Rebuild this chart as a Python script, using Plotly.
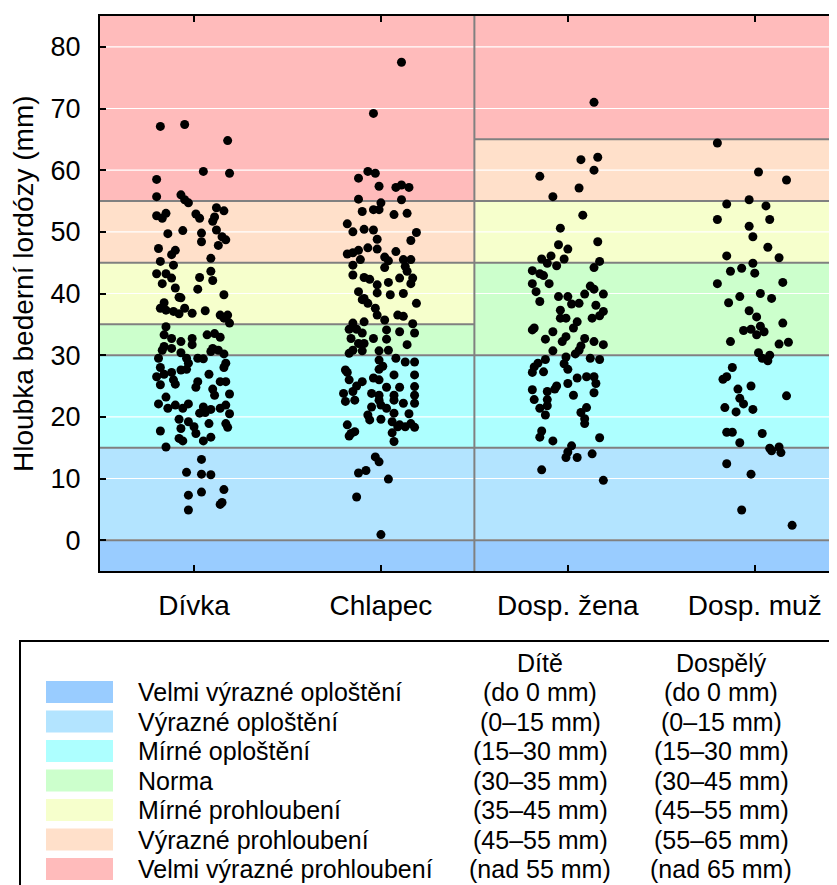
import plotly.graph_objects as go

# ---------------- data ----------------
categories = ["Dívka", "Chlapec", "Dosp. žena", "Dosp. muž"]

divka_y = [67.1, 67.4, 64.8, 59.8, 59.5, 58.5, 55.7, 56.0, 55.2, 54.7, 52.6, 52.2, 53.0, 49.7, 50.2,
           52.9, 52.2, 49.8, 48.4, 53.9, 53.4, 52.4, 51.7, 50.3, 49.2, 48.7, 47.8, 47.3, 47.0, 46.3,
           44.6, 45.2, 45.7, 43.2, 43.2, 42.5, 41.6, 40.9, 42.6, 42.1, 43.6, 39.4, 39.3, 40.7, 39.8,
           38.5, 37.6, 37.3, 37.1, 36.7, 37.6, 36.8, 37.2, 36.5, 36.5, 35.2, 36.0, 34.6, 33.3, 32.7,
           32.2, 32.7, 31.7, 33.3, 33.5, 32.9, 31.4, 31.1, 30.8, 30.4, 31.1, 30.8, 30.6, 30.2, 29.5,
           29.4, 29.5, 29.5, 28.0, 26.5, 26.9, 27.2, 26.0, 25.3, 27.6, 27.7, 28.7, 26.9, 28.0, 28.7,
           25.2, 25.7, 24.8, 24.5, 25.7, 25.7, 23.5, 23.7, 23.2, 22.1, 21.4, 21.9, 21.4, 22.1, 21.6,
           20.6, 20.7, 21.2, 21.4, 21.9, 20.5, 19.6, 19.2, 18.1, 18.4, 18.9, 18.9, 18.3, 17.7, 17.3,
           16.5, 16.1, 16.1, 16.7, 15.1, 13.1, 11.0, 10.7, 10.6, 7.3, 7.8, 8.2, 6.1, 5.8, 4.9]
divka_dx = [-0.18, -0.05, 0.18, 0.05, 0.19, -0.20, -0.20, -0.07, -0.05, -0.03, -0.20, -0.17, -0.15, -0.14, -0.06,
            0.01, 0.03, 0.04, 0.04, 0.12, 0.16, 0.11, 0.10, 0.12, 0.15, 0.17, 0.13, -0.19, -0.10, -0.12,
            -0.11, -0.18, 0.09, -0.20, -0.15, -0.12, -0.17, -0.10, 0.03, 0.10, 0.09, -0.08, -0.07, 0.02, 0.16,
            -0.16, -0.18, -0.15, -0.11, -0.08, -0.05, -0.01, 0.06, 0.14, 0.18, 0.19, 0.16, -0.15, -0.16, -0.12,
            -0.07, -0.01, -0.01, 0.07, 0.11, 0.14, -0.16, -0.12, -0.17, -0.07, 0.10, 0.13, 0.09, 0.16, 0.02,
            0.05, -0.04, -0.19, -0.18, -0.20, -0.16, -0.12, -0.11, -0.10, -0.07, -0.04, -0.03, 0.08, 0.16, 0.17,
            -0.18, 0.02, 0.01, 0.10, 0.14, 0.17, 0.11, 0.19, -0.15, -0.19, -0.14, -0.10, -0.06, -0.03, 0.05,
            0.03, 0.06, 0.09, 0.14, 0.17, 0.19, -0.08, -0.03, -0.07, 0.00, 0.08, 0.17, 0.18, -0.18, 0.01,
            -0.08, -0.06, 0.05, 0.09, -0.15, 0.04, -0.04, 0.04, 0.09, -0.03, 0.04, 0.16, 0.15, 0.14, -0.03]

chlapec_y = [77.5, 69.2, 58.7, 59.8, 59.5, 57.4, 57.2, 57.6, 57.2, 55.3, 55.2, 54.7, 53.6, 53.6, 53.3,
             52.8, 53.0, 51.3, 50.0, 50.4, 50.3, 48.8, 49.9, 48.6, 47.4, 47.2, 46.4, 46.6, 47.0, 46.8,
             44.6, 45.5, 45.9, 45.3, 44.2, 45.5, 45.5, 44.4, 43.6, 43.0, 42.6, 42.3, 41.8, 42.5, 42.5,
             41.6, 41.4, 40.3, 40.1, 39.8, 40.0, 39.2, 39.0, 38.4, 38.4, 37.6, 36.5, 36.5, 36.3, 35.7,
             35.1, 35.2, 35.4, 34.2, 34.2, 33.6, 34.1, 33.8, 33.6, 32.7, 32.7, 32.6, 31.9, 31.9, 31.7,
             30.8, 30.7, 30.7, 30.3, 30.8, 29.5, 29.2, 28.9, 28.9, 28.2, 27.7, 27.6, 27.2, 26.8, 26.8,
             26.3, 26.0, 25.7, 26.0, 25.0, 24.8, 24.8, 24.9, 23.8, 24.1, 23.8, 23.5, 23.5, 23.5, 22.5,
             22.7, 22.7, 22.7, 22.2, 22.2, 21.6, 21.9, 21.4, 20.3, 20.6, 20.5, 19.5, 19.6, 19.2, 18.7,
             18.9, 18.7, 18.4, 18.4, 18.3, 17.3, 17.6, 16.9, 17.4, 16.0, 13.5, 12.7, 10.9, 11.3, 9.9,
             7.0, 0.9]
chlapec_dx = [0.11, -0.04, -0.12, -0.07, -0.03, -0.01, 0.08, 0.11, 0.15, -0.12, 0.11, 0.00, -0.04, -0.01, -0.10,
              0.07, 0.14, -0.18, -0.15, -0.09, -0.04, -0.02, 0.19, 0.16, -0.07, -0.02, -0.18, -0.15, -0.12, 0.08,
              -0.15, -0.11, 0.02, 0.04, 0.02, 0.12, 0.16, 0.13, 0.14, -0.15, -0.09, -0.06, 0.04, 0.10, 0.17,
              0.16, -0.02, -0.12, -0.02, 0.05, 0.12, -0.09, -0.10, -0.07, 0.19, -0.03, -0.02, 0.09, 0.12, 0.02,
              0.17, -0.15, -0.09, -0.17, -0.13, -0.10, 0.03, 0.10, 0.18, -0.16, -0.04, 0.03, -0.12, -0.09, 0.14,
              -0.15, -0.10, -0.01, -0.17, 0.04, 0.08, -0.01, 0.13, 0.18, 0.01, -0.01, -0.19, -0.18, 0.07, 0.18,
              -0.04, -0.17, -0.10, -0.01, -0.13, 0.03, 0.10, 0.18, -0.20, -0.15, -0.05, -0.01, 0.07, 0.18, -0.19,
              -0.14, -0.01, 0.07, 0.12, 0.18, -0.05, 0.00, 0.03, -0.07, 0.07, 0.15, -0.06, 0.00, 0.06, 0.10,
              0.16, -0.18, 0.09, 0.13, 0.18, -0.16, -0.14, -0.17, 0.06, 0.07, -0.03, -0.01, -0.12, -0.08, 0.04,
              -0.13, 0.00]

zena_y = [71.0, 62.1, 61.7, 60.0, 59.0, 57.1, 55.7, 52.7, 50.6, 48.4, 47.9, 47.2, 46.1, 45.6, 45.6,
          45.2, 44.9, 44.5, 44.2, 43.7, 43.2, 42.9, 41.6, 41.6, 40.3, 41.2, 40.7, 39.9, 39.9, 39.5,
          39.5, 38.7, 38.3, 38.4, 38.1, 37.1, 37.3, 36.0, 36.0, 35.4, 36.0, 36.4, 34.4, 34.1, 34.4,
          33.8, 33.0, 32.2, 32.7, 32.2, 32.6, 31.5, 30.8, 31.7, 30.7, 30.2, 29.7, 29.3, 29.5, 29.3,
          28.7, 28.6, 28.1, 27.7, 27.3, 27.2, 26.3, 26.5, 26.5, 25.4, 25.0, 25.4, 23.9, 24.4, 24.1,
          24.5, 23.5, 22.8, 22.8, 21.8, 21.4, 20.3, 21.5, 20.7, 19.7, 18.9, 17.7, 16.7, 16.1, 16.6,
          15.3, 14.3, 13.4, 13.4, 14.0, 11.4, 9.7]
zena_dx = [0.14, 0.16, 0.07, 0.14, -0.15, 0.06, -0.08, 0.08, -0.04, 0.16, -0.05, 0.00, -0.09, -0.14, -0.02,
           0.17, -0.11, -0.06, 0.14, -0.19, -0.15, -0.13, -0.10, -0.19, -0.17, 0.12, 0.14, 0.19, 0.09, -0.05,
           0.00, -0.15, 0.02, 0.06, 0.15, 0.19, -0.04, -0.04, -0.01, 0.05, 0.13, 0.17, 0.03, -0.19, -0.18,
           -0.08, -0.01, -0.03, 0.09, 0.14, -0.12, 0.07, 0.06, 0.19, -0.08, 0.04, -0.01, -0.12, 0.12, 0.17,
           -0.16, -0.02, -0.18, 0.00, -0.13, -0.19, 0.05, 0.10, 0.14, 0.00, -0.06, 0.15, 0.14, -0.19, -0.11,
           -0.07, 0.03, -0.18, -0.11, -0.11, -0.15, -0.12, 0.10, 0.07, 0.09, 0.09, -0.14, -0.15, -0.08, 0.17,
           0.02, 0.00, -0.01, 0.05, 0.13, -0.14, 0.19]

muz_y = [64.4, 59.7, 58.4, 55.2, 54.5, 54.2, 52.0, 52.0, 50.9, 49.2, 47.5, 46.1, 45.8, 44.9, 44.1,
         43.3, 43.6, 41.6, 41.8, 39.5, 40.0, 39.2, 38.5, 37.2, 36.2, 35.2, 34.0, 34.2, 34.7, 33.8,
         33.3, 32.2, 31.8, 32.1, 30.4, 30.0, 29.5, 29.1, 28.0, 26.5, 26.1, 25.0, 24.5, 23.0, 22.1,
         23.4, 21.5, 20.8, 21.2, 17.5, 17.5, 17.3, 15.8, 14.9, 15.1, 14.2, 14.5, 12.4, 10.7, 4.9, 2.4]
muz_dx = [-0.20, 0.02, 0.17, -0.03, -0.15, 0.06, -0.20, 0.08, -0.03, -0.01, 0.07, -0.15, 0.13, -0.01, -0.07,
          0.00, -0.13, -0.20, 0.15, -0.08, 0.03, 0.09, -0.14, -0.03, 0.01, 0.15, -0.06, -0.02, 0.03, 0.05,
          0.01, -0.13, 0.13, 0.18, 0.02, 0.08, 0.04, 0.07, -0.12, -0.15, -0.17, -0.02, -0.09, -0.08, -0.06,
          0.17, -0.16, -0.10, -0.01, -0.15, -0.12, 0.04, -0.08, 0.08, 0.13, 0.14, 0.09, -0.15, -0.02, -0.07, 0.20]

group_y = [divka_y, chlapec_y, zena_y, muz_y]
group_dx = [divka_dx, chlapec_dx, zena_dx, muz_dx]

# zone limits (mm)
child_limits = [0, 15, 30, 35, 45, 55]
adult_limits = [0, 15, 30, 45, 55, 65]

zone_names = ["Velmi výrazné oploštění", "Výrazné oploštění", "Mírné oploštění", "Norma",
              "Mírné prohloubení", "Výrazné prohloubení", "Velmi výrazné prohloubení"]
zone_colors = ["#99CCFF", "#B3E4FF", "#ADFFFF", "#CCFFCC", "#F6FFCC", "#FFE0CA", "#FFBBBB"]
child_ranges = ["(do 0 mm)", "(0–15 mm)", "(15–30 mm)", "(30–35 mm)", "(35–45 mm)", "(45–55 mm)", "(nad 55 mm)"]
adult_ranges = ["(do 0 mm)", "(0–15 mm)", "(15–30 mm)", "(30–45 mm)", "(45–55 mm)", "(55–65 mm)", "(nad 65 mm)"]
col_headers = ["Dítě", "Dospělý"]

y_ticks = [0, 10, 20, 30, 40, 50, 60, 70, 80]
y_range = [-5, 85]
x_range = [-0.503, 3.44]

# ---------------- layout geometry (target page pixels) ----------------
PAGE_W, PAGE_H = 837, 885
OFF = 8                      # default body margin of the html page
ML, MT = 100, 16             # plot area left / top on the page
PLOT_R, PLOT_B = 837, 571    # plot area right / bottom on the page
W, H = PAGE_W - OFF, PAGE_H - OFF
PW = PLOT_R - ML
PH = PLOT_B - MT
FONT = "Liberation Sans, Arial, sans-serif"


def pxx(px):
    return (px - ML) / PW


def pxy(py):
    return (PLOT_B - py) / PH


fig = go.Figure()

for i, (ys, dxs) in enumerate(zip(group_y, group_dx)):
    fig.add_trace(go.Scatter(
        x=[i + d for d in dxs], y=ys, mode="markers",
        marker=dict(color="black", size=9, line=dict(width=0)),
        showlegend=False, hoverinfo="y"))

shapes = []
# coloured zones
for (xa, xb, lims) in [(-0.6, 1.5, child_limits), (1.5, 3.6, adult_limits)]:
    edges = [y_range[0]] + lims + [y_range[1]]
    for k in range(len(zone_colors)):
        shapes.append(dict(type="rect", xref="x", yref="y", x0=xa, x1=xb, y0=edges[k], y1=edges[k + 1],
                           fillcolor=zone_colors[k], line=dict(width=0), layer="below"))
# white grid lines
for t in y_ticks:
    shapes.append(dict(type="line", xref="x", yref="y", x0=-0.6, x1=3.6, y0=t, y1=t,
                       line=dict(color="white", width=1.2), layer="below"))
# grey zone boundaries
for (xa, xb, lims) in [(-0.6, 1.5, child_limits), (1.5, 3.6, adult_limits)]:
    for v in lims:
        shapes.append(dict(type="line", xref="x", yref="y", x0=xa, x1=xb, y0=v, y1=v,
                           line=dict(color="#808080", width=2), layer="below"))
shapes.append(dict(type="line", xref="x", yref="y", x0=1.5, x1=1.5, y0=y_range[0], y1=y_range[1],
                   line=dict(color="#808080", width=2), layer="below"))

# legend box
shapes.append(dict(type="rect", xref="paper", yref="paper", x0=pxx(20), x1=pxx(860), y0=pxy(641), y1=pxy(900),
                   line=dict(color="black", width=2), fillcolor="rgba(0,0,0,0)", layer="above"))

annotations = []
row0, rowstep = 692, 29.5
LFONT = dict(family=FONT, size=25, color="black")
for k, name in enumerate(zone_names):
    yc = row0 + k * rowstep
    shapes.append(dict(type="rect", xref="paper", yref="paper", x0=pxx(46), x1=pxx(113),
                       y0=pxy(yc + 11), y1=pxy(yc - 11), fillcolor=zone_colors[k],
                       line=dict(width=0), layer="above"))
    annotations.append(dict(xref="paper", yref="paper", x=pxx(136), y=pxy(yc), text=name, showarrow=False,
                            xanchor="left", yanchor="middle", font=LFONT))
    annotations.append(dict(xref="paper", yref="paper", x=pxx(540), y=pxy(yc), text=child_ranges[k],
                            showarrow=False, xanchor="center", yanchor="middle", font=LFONT))
    annotations.append(dict(xref="paper", yref="paper", x=pxx(721), y=pxy(yc), text=adult_ranges[k],
                            showarrow=False, xanchor="center", yanchor="middle", font=LFONT))
for hx, ht in zip([540, 721], col_headers):
    annotations.append(dict(xref="paper", yref="paper", x=pxx(hx), y=pxy(663), text=ht, showarrow=False,
                            xanchor="center", yanchor="middle", font=LFONT))

# y title
annotations.append(dict(xref="paper", yref="paper", x=pxx(23), y=pxy(284), text="Hloubka bederní lordózy (mm)",
                        textangle=-90, showarrow=False, xanchor="center", yanchor="middle",
                        font=dict(family=FONT, size=28, color="black")))

fig.update_layout(
    width=W, height=H,
    margin=dict(l=ML - OFF, r=W - (PLOT_R - OFF), t=MT - OFF, b=H - (PLOT_B - OFF), pad=0),
    paper_bgcolor="white", plot_bgcolor="white",
    shapes=shapes, annotations=annotations,
    font=dict(family=FONT, color="black"),
    xaxis=dict(range=x_range, tickmode="array", tickvals=list(range(len(categories))), ticktext=categories,
               showgrid=False, zeroline=False, showline=True, linecolor="black", linewidth=2,
               mirror="ticks", ticks="inside", ticklen=6, tickwidth=2, tickcolor="black",
               ticklabelstandoff=8, tickfont=dict(family=FONT, size=28, color="black")),
    yaxis=dict(range=y_range, tickmode="array", tickvals=y_ticks, showgrid=False, zeroline=False,
               showline=True, linecolor="black", linewidth=2, ticks="inside", ticklen=6, tickwidth=2,
               tickcolor="black", ticklabelstandoff=12, tickfont=dict(family=FONT, size=27, color="black")),
)

fig.write_html("out.html")
